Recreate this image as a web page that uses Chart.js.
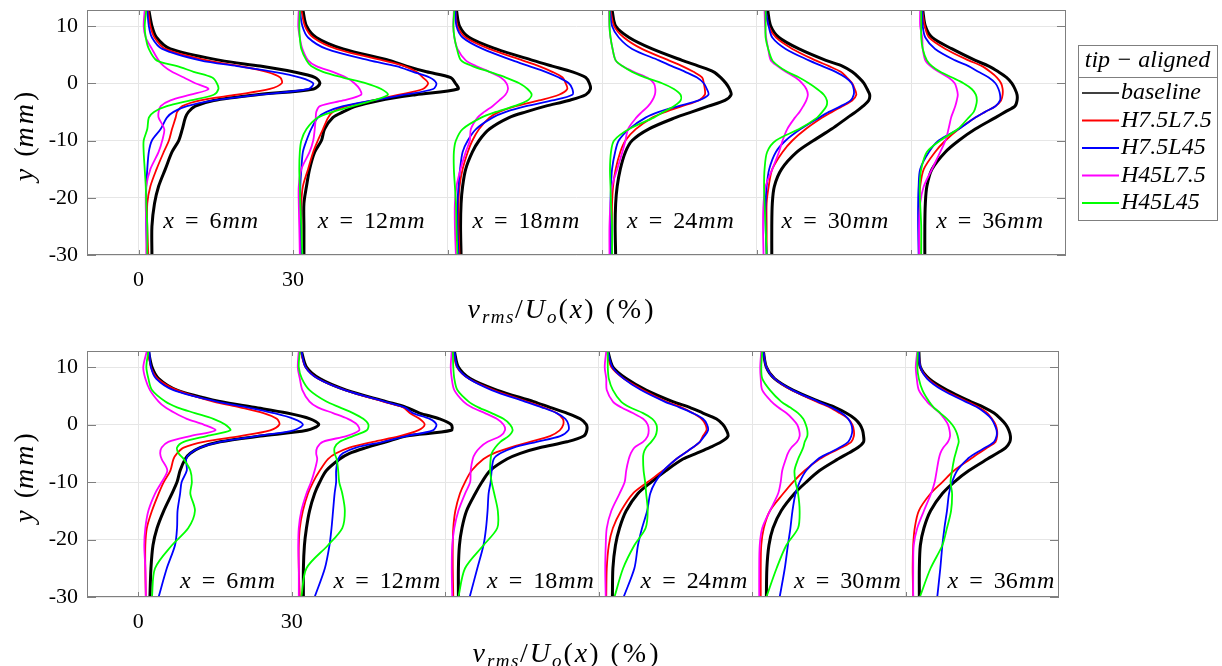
<!DOCTYPE html>
<html>
<head>
<meta charset="utf-8">
<script src="https://cdn.jsdelivr.net/npm/chart.js@4.4.1/dist/chart.umd.min.js"></script>
<style>
  body { margin: 0; background: #fff; }
  #wrap { position: relative; width: 1222px; height: 666px; }
  canvas { position: absolute; left: 0; }
</style>
</head>
<body>
<div id="wrap">
  <canvas id="tipChart" width="1222" height="333" style="top:0"></canvas>
  <canvas id="rootChart" width="1222" height="333" style="top:333px"></canvas>
</div>
<script>
// profile heights (mm), shared by every curve
const yLevels = [12.8, 10, 8, 6, 4, 3, 2, 1, 0, -1, -2, -3, -4, -5, -6, -8, -10, -12, -15, -18, -21, -25, -30];
// streamwise stations (mm), each profile shifted by 30 % on the x axis
const stations = [6, 12, 18, 24, 30, 36];
const stationShift = 30;
const xTicks = [0, 30, 60, 90, 120, 150];
const yTicks = [-30, -20, -10, 0, 10];
const seriesNames = ["baseline", "H7.5L7.5", "H7.5L45", "H45L7.5", "H45L45"];
const seriesColors = ["#000000", "#ff0000", "#0000ff", "#ff00ff", "#00ff00"];

// tip-aligned, v_rms/U_o (%) per station
const tipBaseline = [
  [2.0,2.6,3.5,6.2,15.9,23.6,30.0,34.3,35.2,34.0,23.0,14.6,11.0,9.7,9.1,8.5,7.8,6.5,5.2,3.9,3.1,2.6,2.6],
  [1.9,2.6,4.5,9.7,18.7,22.0,25.9,30.6,31.5,32.0,23.8,16.8,12.3,9.7,7.7,6.1,5.5,4.2,3.2,2.6,2.1,2.1,2.1],
  [1.7,2.3,4.2,9.4,16.5,20.3,24.2,26.8,27.5,27.7,26.8,23.5,19.0,15.2,11.9,8.1,6.1,4.8,3.5,2.9,2.6,2.5,2.6],
  [1.9,2.6,5.2,9.7,15.5,18.7,21.6,23.0,24.0,24.7,25.0,23.8,20.6,17.4,14.2,9.0,5.8,4.5,3.5,2.9,2.6,2.5,2.6],
  [2.1,2.7,4.3,8.2,13.4,16.6,18.5,19.8,20.8,21.4,21.9,21.7,20.6,19.2,17.6,14.5,11.0,7.8,4.8,3.4,3.0,2.9,2.9],
  [2.2,2.7,4.0,7.9,12.4,15.0,16.9,18.5,19.5,20.1,20.5,20.5,20.1,18.2,16.3,12.4,9.2,6.6,4.0,3.0,2.7,2.6,2.6]
];
const tipH75L75 = [
  [1.9,2.3,3.1,5.2,13.3,19.7,24.9,27.5,27.8,25.5,19.1,12.0,8.5,7.5,7.2,6.5,5.9,4.9,3.5,2.3,1.7,1.7,1.9],
  [1.6,2.3,3.9,8.4,17.4,21.6,23.9,25.2,26.2,25.2,20.6,15.5,10.3,7.7,6.8,5.8,4.8,3.9,2.9,1.9,1.6,1.6,1.6],
  [1.5,1.9,3.5,8.1,14.5,17.7,20.3,22.3,22.9,23.2,21.6,17.7,13.2,10.0,8.1,6.1,4.8,3.9,2.9,2.3,2.1,2.1,2.3],
  [1.6,2.3,4.2,7.7,12.9,15.5,17.7,19.4,19.7,19.9,19.9,18.7,15.5,12.3,9.7,6.5,4.5,3.5,2.6,2.1,1.9,1.9,1.9],
  [1.7,2.3,3.7,6.9,11.4,14.0,16.3,17.5,18.5,19.0,19.3,18.5,16.6,14.6,12.7,9.5,6.9,5.0,3.0,2.3,1.9,1.9,1.9],
  [2.1,2.6,3.4,6.6,11.1,13.7,15.3,16.6,17.4,17.7,17.7,17.4,16.3,14.3,12.4,9.2,6.6,4.6,2.4,1.7,1.5,1.5,1.6]
];
const tipH75L45 = [
  [1.7,2.0,2.6,4.6,12.0,19.1,26.2,31.4,33.9,33.0,23.6,14.6,9.4,6.8,5.5,4.3,2.6,2.0,1.7,1.5,1.5,1.5,1.7],
  [1.3,1.8,2.9,6.5,14.8,20.0,23.3,26.5,27.8,27.2,21.6,15.5,9.7,6.5,4.8,3.5,2.6,1.9,1.6,1.4,1.4,1.5,1.6],
  [1.5,1.7,2.9,6.8,12.6,15.8,19.0,21.6,23.5,24.2,24.2,20.3,15.2,11.3,8.7,5.5,3.9,2.9,2.4,2.1,1.9,1.9,2.1],
  [1.5,1.9,3.2,5.8,11.0,13.5,16.1,18.4,19.7,20.3,20.6,18.7,14.8,11.0,8.4,5.2,3.2,2.5,1.9,1.7,1.6,1.6,1.7],
  [1.7,2.3,3.0,5.6,10.1,12.7,15.3,17.2,18.4,18.8,18.8,18.2,16.3,14.0,12.1,8.5,5.6,3.7,2.4,1.9,1.7,1.7,1.9],
  [2.1,2.2,2.7,4.6,8.5,11.1,13.0,15.0,16.3,16.9,17.2,17.2,16.3,14.3,12.4,9.2,5.3,3.4,1.7,1.4,1.3,1.3,1.4]
];
const tipH45L75 = [
  [1.2,1.0,1.4,2.6,3.9,4.9,6.5,8.8,11.0,13.6,10.1,6.2,4.3,3.9,3.9,5.0,4.6,3.9,2.3,1.5,1.4,1.5,1.5],
  [1.1,1.0,1.3,1.8,2.9,4.5,7.7,10.3,11.9,12.9,13.2,9.7,5.2,4.5,4.4,4.2,3.9,3.2,1.6,1.1,1.1,1.2,1.3],
  [1.2,1.1,1.3,1.9,3.5,5.5,8.1,10.3,11.4,11.7,11.2,10.0,8.7,7.1,5.8,4.5,4.3,3.5,2.5,1.7,1.4,1.4,1.6],
  [1.3,1.4,1.6,2.0,2.6,3.9,6.1,8.7,10.0,10.3,10.2,9.7,8.9,7.7,6.6,5.0,4.5,3.9,2.9,1.9,1.6,1.4,1.4],
  [1.5,1.6,1.8,2.2,2.7,4.0,5.6,7.5,8.8,9.6,9.9,9.6,9.0,8.3,7.4,5.9,5.0,4.3,3.0,1.7,1.3,1.2,1.3],
  [1.7,1.7,2.1,2.2,2.7,3.7,5.3,7.2,8.4,8.8,9.0,8.8,8.5,8.1,7.7,7.2,6.6,5.6,4.0,2.4,1.7,1.5,1.5]
];
const tipH45L45 = [
  [1.5,1.2,1.4,2.0,3.5,7.5,10.7,14.3,15.2,15.5,14.6,10.1,5.5,3.0,2.0,1.7,1.0,1.0,1.2,1.4,1.5,1.7,1.7],
  [1.3,1.2,1.3,1.6,2.6,3.5,5.8,9.7,14.2,17.1,18.4,15.5,11.6,7.7,4.8,2.6,1.6,1.3,1.2,1.3,1.4,1.6,1.8],
  [1.3,1.1,1.3,1.8,2.6,4.8,8.1,11.3,13.9,15.5,16.3,15.5,12.9,9.4,6.5,2.9,1.6,1.2,1.2,1.4,1.6,1.7,1.9],
  [1.4,1.4,1.6,2.0,2.6,3.9,5.8,8.4,11.6,13.9,15.2,15.2,13.9,11.9,10.0,5.2,2.3,1.7,1.5,1.6,1.7,1.9,1.9],
  [1.7,1.7,1.7,2.2,3.0,4.2,5.9,8.2,10.1,11.7,13.0,13.6,13.5,12.7,11.7,8.2,3.7,2.0,1.5,1.4,1.5,1.7,1.9],
  [1.9,1.9,1.9,2.2,3.0,4.0,5.6,7.9,10.1,11.7,12.5,12.7,12.5,12.1,11.1,9.0,5.6,3.0,1.9,1.6,1.7,1.9,1.9]
];

// root-aligned, v_rms/U_o (%) per station
const rootBaseline = [
  [2.0,2.7,4.0,7.6,16.0,22.6,29.1,33.6,35.3,33.0,23.9,16.0,12.1,10.2,9.2,8.2,7.6,6.6,5.0,3.7,2.9,2.5,2.3],
  [1.9,2.9,5.5,10.7,18.5,22.4,25.0,28.9,31.2,31.2,22.4,18.5,14.6,11.3,9.4,6.8,5.5,4.5,3.5,2.9,2.5,2.3,2.3],
  [1.8,2.6,4.9,10.1,17.3,20.5,23.8,26.4,27.6,27.7,27.1,23.8,18.6,14.7,12.1,8.8,7.2,5.9,4.2,3.3,2.8,2.6,2.6],
  [1.8,2.8,5.4,9.3,14.5,17.8,20.4,23.0,24.3,25.0,25.3,24.0,21.7,19.1,16.5,13.2,10.3,7.7,5.4,4.1,3.3,2.8,2.7],
  [2.2,2.8,4.4,8.0,13.2,16.2,18.4,20.1,21.1,21.6,21.8,21.8,20.7,18.8,16.8,13.2,10.6,8.3,5.7,4.1,3.3,2.9,2.8],
  [2.6,2.9,4.6,8.1,12.7,15.3,17.3,18.6,19.6,20.2,20.5,20.4,19.6,17.9,16.0,12.4,9.5,7.2,4.9,3.6,2.9,2.7,2.7]
];
const rootH75L75 = [
  [2.0,2.5,3.8,7.6,14.7,19.9,24.5,27.1,27.6,25.8,19.9,12.8,8.9,7.6,6.9,6.3,5.0,4.0,2.7,1.7,1.4,1.4,1.5],
  [1.8,2.7,5.1,10.4,17.9,21.8,23.1,25.0,26.0,24.7,21.1,15.9,11.3,8.7,7.1,5.5,4.2,3.2,2.2,1.6,1.4,1.4,1.6],
  [1.6,2.3,4.6,9.5,16.0,19.2,21.8,23.0,23.1,22.4,20.5,16.6,12.7,9.5,7.5,5.2,3.9,2.9,2.0,1.6,1.5,1.5,1.6],
  [1.6,2.5,4.9,8.7,13.2,16.2,18.4,20.1,20.9,21.1,20.4,19.8,18.4,16.8,15.2,12.6,9.6,6.7,4.4,2.8,2.0,1.6,1.5],
  [2.2,2.8,4.4,7.7,12.6,15.2,17.1,18.8,19.6,19.9,19.9,19.4,17.5,15.2,13.2,10.3,8.0,6.1,3.5,2.3,1.8,1.7,1.7],
  [2.6,2.9,4.4,7.5,12.1,14.3,16.0,16.9,17.6,17.9,17.9,17.6,16.0,14.3,12.7,9.5,7.2,4.9,2.6,1.8,1.5,1.4,1.5]
];
const rootH75L45 = [
  [2.2,2.5,3.5,6.9,15.4,21.3,26.5,30.4,32.2,30.4,23.2,16.0,12.1,10.2,9.4,9.5,8.5,8.2,7.7,7.6,7.2,5.6,4.0],
  [1.9,2.7,5.1,10.4,18.2,22.1,23.7,27.0,28.3,27.6,22.4,17.9,12.6,10.0,9.1,8.7,8.7,8.4,8.1,7.8,7.4,6.5,4.5],
  [1.8,2.4,4.6,9.1,15.6,18.9,21.8,23.5,24.1,24.1,22.5,17.9,13.4,10.8,9.5,9.1,8.9,8.5,8.3,8.0,7.5,6.3,4.8],
  [1.8,2.7,4.9,8.3,12.9,15.8,18.4,20.4,21.2,21.4,20.7,19.8,18.4,16.8,15.2,12.7,11.1,10.1,9.5,8.5,7.7,7.0,4.9],
  [2.2,2.8,4.4,7.9,12.9,15.5,17.5,18.8,19.4,19.6,19.4,18.8,17.1,14.9,12.9,10.6,9.3,8.5,7.9,7.5,7.0,6.4,5.4],
  [2.6,2.9,4.2,7.2,11.7,14.0,15.6,16.8,17.4,17.8,17.8,17.3,15.6,13.7,12.1,10.1,9.1,8.5,8.1,7.6,7.2,6.8,6.2]
];
const rootH45L75 = [
  [1.7,1.0,1.4,2.3,4.0,5.3,7.2,9.5,12.8,15.1,10.2,5.9,4.6,4.3,4.6,5.7,4.6,3.3,2.0,1.4,1.2,1.4,1.5],
  [1.4,1.2,1.6,2.1,3.5,5.1,8.1,11.0,12.8,13.2,10.7,6.1,5.0,4.8,5.0,4.5,3.8,2.9,1.9,1.4,1.3,1.4,1.4],
  [1.3,1.1,1.3,1.8,3.6,5.2,7.8,10.1,11.4,11.7,10.8,8.3,6.8,5.9,5.4,5.0,4.9,3.9,2.6,1.8,1.4,1.3,1.4],
  [1.5,1.2,1.5,1.6,2.8,4.4,6.7,8.7,9.6,9.8,9.6,8.7,7.0,6.3,5.9,5.4,5.1,4.1,2.5,1.6,1.4,1.3,1.4],
  [1.8,1.6,1.7,2.0,3.8,5.1,6.7,7.9,8.8,9.2,9.3,8.8,7.7,7.0,6.6,5.9,5.6,5.1,3.5,2.0,1.5,1.4,1.4],
  [2.3,2.0,2.2,2.6,4.2,5.4,6.7,7.6,8.3,8.6,8.7,8.3,7.4,6.8,6.5,6.1,5.7,5.0,3.6,2.3,1.6,1.5,1.5]
];
const rootH45L45 = [
  [2.0,1.6,2.0,2.7,5.3,7.6,11.1,14.7,17.0,18.0,13.4,8.9,7.6,7.9,8.9,10.2,10.5,10.2,11.1,9.8,6.6,3.3,2.7],
  [1.6,1.4,2.0,3.5,6.8,9.4,12.0,14.0,15.0,14.7,12.0,9.4,8.4,8.4,8.8,9.1,9.3,9.9,10.4,9.9,7.1,2.9,1.9],
  [1.5,1.6,1.8,2.4,4.6,6.5,9.1,11.4,12.7,13.2,12.4,10.8,9.8,9.1,8.9,8.8,9.1,9.6,10.3,10.2,7.5,3.9,2.6],
  [1.8,1.8,2.0,2.8,4.4,6.1,8.7,10.5,11.3,11.4,11.1,10.3,9.3,8.8,8.7,8.8,9.1,9.3,9.6,9.2,7.0,4.8,3.1],
  [2.0,1.8,2.0,3.5,5.7,7.4,9.0,10.0,10.5,10.8,10.8,10.3,10.0,9.5,9.0,8.3,8.5,9.0,9.3,9.0,6.7,4.8,2.8],
  [2.4,2.3,2.6,3.3,4.6,5.5,6.8,8.1,9.1,9.8,10.2,10.4,10.1,9.8,9.5,9.1,8.8,9.1,8.9,8.1,7.2,4.9,2.8]
];

const tipSeries = [tipBaseline, tipH75L75, tipH75L45, tipH45L75, tipH45L45];
const rootSeries = [rootBaseline, rootH75L75, rootH75L45, rootH45L75, rootH45L45];

const serif = "'Liberation Serif', 'Times New Roman', serif";
const frameColor = "#7f7f7f";

function buildDatasets(series) {
  const sets = [];
  series.forEach((profiles, s) => {
    profiles.forEach((vals, i) => {
      sets.push({
        label: seriesNames[s],
        data: vals.map((v, k) => ({ x: i * stationShift + v, y: yLevels[k] })),
        borderColor: seriesColors[s],
        borderWidth: s === 0 ? 3 : 1.8,
        showLine: true,
        pointRadius: 0,
        tension: 0.3,
        fill: false
      });
    });
  });
  // black on top like the original draw order
  return sets.reverse();
}

function measurePieces(ctx, pieces) {
  let w = 0;
  pieces.forEach(p => {
    ctx.font = p.f;
    ctx.letterSpacing = p.ls || "0px";
    w += (p.gap || 0) + ctx.measureText(p.t).width;
  });
  ctx.letterSpacing = "0px";
  return w;
}
function drawPieces(ctx, pieces, x, y) {
  ctx.textAlign = "left";
  pieces.forEach(p => {
    ctx.font = p.f;
    ctx.letterSpacing = p.ls || "0px";
    x += p.gap || 0;
    ctx.fillText(p.t, x, y + (p.dy || 0));
    x += ctx.measureText(p.t).width;
  });
  ctx.letterSpacing = "0px";
}

// frame, inner ticks, station labels, axis titles and legend
const panelDecor = {
  id: "panelDecor",
  afterDraw(chart, args, opts) {
    const ctx = chart.ctx;
    const a = chart.chartArea;
    const xs = chart.scales.x, ys = chart.scales.y;
    ctx.save();
    ctx.strokeStyle = frameColor;
    ctx.lineWidth = 1;
    ctx.strokeRect(a.left + 0.5, a.top + 0.5, a.right - a.left - 1, a.bottom - a.top - 1);
    ctx.beginPath();
    xTicks.forEach(t => {
      const px = Math.round(xs.getPixelForValue(t)) + 0.5;
      ctx.moveTo(px, a.bottom); ctx.lineTo(px, a.bottom - 5);
      ctx.moveTo(px, a.top); ctx.lineTo(px, a.top + 5);
    });
    yTicks.forEach(t => {
      const py = Math.round(ys.getPixelForValue(t)) + 0.5;
      ctx.moveTo(a.left, py); ctx.lineTo(a.left + 9, py);
      ctx.moveTo(a.right, py); ctx.lineTo(a.right - 9, py);
    });
    ctx.stroke();

    ctx.fillStyle = "#000";
    ctx.textBaseline = "middle";

    // station labels
    stations.forEach((st, i) => {
      const px = xs.getPixelForValue(i * stationShift + opts.labelDx);
      const py = ys.getPixelForValue(opts.labelY);
      drawPieces(ctx, [
        { t: "x", f: "italic 24px " + serif },
        { t: "=", f: "24px " + serif, gap: 11 },
        { t: String(st), f: "24px " + serif, gap: 11 },
        { t: "mm", f: "italic 24px " + serif, gap: 1, ls: "1px" }
      ], px, py);
    });

    // x axis title
    const tf = "italic 28px " + serif, tu = "28px " + serif, sf = "italic 19px " + serif;
    const xt = [
      { t: "v", f: tf, ls: "2px" }, { t: "rms", f: sf, dy: 7, ls: "1.5px" }, { t: "/", f: tu, ls: "2px" },
      { t: "U", f: tf, ls: "2px" }, { t: "o", f: sf, dy: 7, ls: "2px" }, { t: "(", f: tu, ls: "2px" },
      { t: "x", f: tf, ls: "2px" }, { t: ")", f: tu, ls: "2px" }, { t: "(%)", f: tu, gap: 10, ls: "3px" }
    ];
    const w = measurePieces(ctx, xt);
    drawPieces(ctx, xt, opts.titleCx - w / 2, opts.titleY);

    // y axis title, rotated
    const yt = [
      { t: "y", f: "italic 28px " + serif },
      { t: "(", f: "28px " + serif, gap: 12 },
      { t: "mm", f: "italic 28px " + serif, ls: "3px" },
      { t: ")", f: "28px " + serif }
    ];
    const wy = measurePieces(ctx, yt);
    ctx.save();
    ctx.translate(26, (a.top + a.bottom) / 2 + 4);
    ctx.rotate(-Math.PI / 2);
    drawPieces(ctx, yt, -wy / 2, 0);
    ctx.restore();

    // legend
    const L = opts.legend;
    ctx.strokeStyle = frameColor;
    ctx.fillStyle = "#fff";
    ctx.fillRect(L.left, L.top, L.right - L.left, L.bottom - L.top);
    ctx.strokeRect(L.left + 0.5, L.top + 0.5, L.right - L.left, L.bottom - L.top);
    ctx.beginPath();
    ctx.moveTo(L.left, L.sep + 0.5); ctx.lineTo(L.right, L.sep + 0.5);
    ctx.stroke();
    ctx.fillStyle = "#000";
    ctx.font = "italic 24px " + serif;
    ctx.textAlign = "center";
    ctx.fillText(L.title, (L.left + L.right) / 2, L.titleY);
    ctx.textAlign = "left";
    seriesNames.forEach((name, s) => {
      const y = L.firstY + s * L.step;
      ctx.strokeStyle = seriesColors[s];
      ctx.lineWidth = s === 0 ? 1.5 : 2;
      ctx.beginPath();
      ctx.moveTo(L.left + 4, y); ctx.lineTo(L.left + 41, y);
      ctx.stroke();
      ctx.fillStyle = "#000";
      ctx.fillText(name, L.left + 43, y);
    });
    ctx.restore();
  }
};

function makeChart(id, series, cfg) {
  return new Chart(document.getElementById(id), {
    type: "scatter",
    data: { datasets: buildDatasets(series) },
    plugins: [panelDecor],
    options: {
      responsive: false,
      animation: false,
      events: [],
      layout: { autoPadding: false, padding: { left: 0, top: cfg.top, right: cfg.right, bottom: 0 } },
      plugins: {
        legend: { display: false },
        tooltip: { enabled: false },
        panelDecor: cfg.decor
      },
      scales: {
        x: {
          type: "linear",
          min: -10,
          max: 180,
          afterBuildTicks: s => { s.ticks = xTicks.map(v => ({ value: v })); },
          afterFit: s => {
            s.height = cfg.xHeight;
            s.paddingLeft = 0; s.paddingRight = 0;
          },
          ticks: {
            padding: 12,
            maxRotation: 0,
            font: { family: serif, size: 22 },
            color: "#000",
            callback: v => (v === 0 || v === 30 ? String(v) : "")
          },
          grid: { color: "#e6e6e6", drawTicks: false },
          border: { display: false }
        },
        y: {
          type: "linear",
          min: -30,
          max: 12.8,
          afterBuildTicks: s => { s.ticks = yTicks.map(v => ({ value: v })); },
          afterFit: s => {
            s.width = 87;
            s.paddingTop = 0; s.paddingBottom = 0;
          },
          ticks: {
            padding: 9,
            font: { family: serif, size: 22 },
            color: "#000"
          },
          grid: { color: "#e6e6e6", drawTicks: false },
          border: { display: false }
        }
      }
    }
  });
}

makeChart("tipChart", tipSeries, {
  top: 10, right: 156, xHeight: 78,
  decor: {
    labelDx: 4.8, labelY: -24.2,
    titleCx: 562, titleY: 311,
    legend: { left: 1078, top: 45, right: 1217, bottom: 220, sep: 77, title: "tip \u2212 aligned", titleY: 61, firstY: 93, step: 27.5 }
  }
});
makeChart("rootChart", rootSeries, {
  top: 18, right: 163, xHeight: 69,
  decor: {
    labelDx: 8.2, labelY: -27.3,
    titleCx: 567, titleY: 322,
    legend: { left: 1069, top: 387, right: 1221, bottom: 562, sep: 419, title: "root \u2212 aligned", titleY: 403, firstY: 435, step: 27.5 }
  }
});
</script>
</body>
</html>
